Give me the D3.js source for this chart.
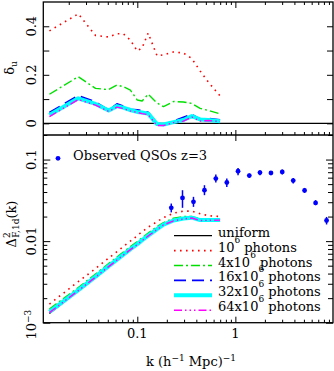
<!DOCTYPE html>
<html>
<head>
<meta charset="utf-8">
<script src="https://cdn.jsdelivr.net/npm/d3@7"></script>
<style>
  body { margin: 0; background: #fff; }
</style>
</head>
<body>
<div id="chart"></div>
<script>
// k grid of the simulated curves (h^-1 Mpc)^-1
var kModel = [0.0127, 0.025, 0.0375, 0.051, 0.062, 0.072, 0.085, 0.1, 0.112, 0.129,
              0.159, 0.185, 0.234, 0.295, 0.36, 0.437, 0.531, 0.698];

// top panel: delta_u for each photon count
var du_1e6  = [0.381, 0.451, 0.362, 0.356, 0.369, 0.369, 0.343, 0.298, 0.311, 0.372,
               0.278, 0.282, 0.294, 0.290, 0.267, 0.216, 0.170, 0.113];
var du_4e6  = [0.120, 0.192, 0.144, 0.139, 0.158, 0.151, 0.137, 0.096, 0.092, 0.120,
               0.084, 0.069, 0.090, 0.088, 0.082, 0.062, 0.053, 0.039];
var du_16e6 = [0.045, 0.114, 0.088, 0.055, 0.080, 0.071, 0.058, 0.055, 0.053, 0.045,
               0.001, -0.005, 0.009, 0.025, 0.037, 0.016, 0.020, 0.014];
var du_32e6 = [0.034, 0.103, 0.080, 0.053, 0.071, 0.065, 0.055, 0.047, 0.045, 0.040,
               -0.003, -0.005, 0.005, 0.014, 0.030, 0.016, 0.014, 0.009];
var du_64e6 = [0.028, 0.098, 0.075, 0.049, 0.067, 0.061, 0.051, 0.045, 0.040, 0.036,
               -0.009, -0.009, 0.003, 0.009, 0.026, 0.009, 0.012, 0.007];

// bottom panel: flux power Delta^2_F,1d(k)
var pf_uni  = [0.00130, 0.00244, 0.00357, 0.00481, 0.00577, 0.00665, 0.00776, 0.00906, 0.01014, 0.0115,
               0.01383, 0.0157, 0.0176, 0.0188, 0.0191, 0.0186, 0.0183, 0.0183];
var pf_1e6  = [0.00169, 0.00319, 0.00460, 0.00619, 0.00743, 0.00857, 0.0100, 0.01167, 0.01306, 0.01483,
               0.01733, 0.0194, 0.0220, 0.0233, 0.0233, 0.0217, 0.0205, 0.0200];
var pf_4e6  = [0.00147, 0.00270, 0.00395, 0.00531, 0.00637, 0.00733, 0.00857, 0.00986, 0.01104, 0.01253,
               0.01504, 0.01683, 0.01912, 0.0200, 0.0200, 0.0188, 0.0186, 0.0186];
var pf_16e6 = [0.00139, 0.00255, 0.00373, 0.00501, 0.00602, 0.00693, 0.00810, 0.00931, 0.01042, 0.01183,
               0.01422, 0.01614, 0.01808, 0.0191, 0.0197, 0.0183, 0.0183, 0.0183];
var pf_32e6 = [0.00136, 0.00251, 0.00367, 0.00494, 0.00593, 0.00683, 0.00798, 0.00918, 0.01028, 0.01168,
               0.01405, 0.01596, 0.0179, 0.0189, 0.0194, 0.0181, 0.0181, 0.0182];
var pf_64e6 = [0.00133, 0.00247, 0.00362, 0.00487, 0.00585, 0.00674, 0.00787, 0.00907, 0.01016, 0.01155,
               0.0139, 0.0158, 0.0177, 0.0187, 0.0192, 0.0179, 0.0180, 0.0181];

// observed QSOs z=3
var qsoK  = [0.222, 0.289, 0.374, 0.484, 0.632, 0.818, 1.065, 1.387, 1.782, 2.307, 3.006, 3.89, 5.08, 6.58, 8.51];
var qsoP  = [0.0256, 0.0339, 0.0303, 0.0421, 0.0585, 0.0523, 0.0719, 0.0637, 0.0693, 0.0686, 0.0705, 0.0553, 0.0418, 0.0294, 0.0179];
var qsoLo = [0.0225, 0.0256, 0.0263, 0.0366, 0.0523, 0.0462, 0.0643, 0.0595, 0.0643, 0.0643, 0.0655, 0.0508, 0.0390, 0.0276, 0.0160];
var qsoHi = [0.0289, 0.0421, 0.0349, 0.0485, 0.0655, 0.0585, 0.0789, 0.0674, 0.0740, 0.0725, 0.0755, 0.0595, 0.0449, 0.0318, 0.0198];

// legend labels: [text, superscript, rest]
var legendLabels = [["uniform", "", ""], ["10", "6", "photons"], ["4x10", "6", "photons"],
                    ["16x10", "6", "photons"], ["32x10", "6", "photons"], ["64x10", "6", "photons"]];

//line styles, same order as the legend
var styles = [
  {color: "#000000", width: 1.3, dash: null},
  {color: "#ff0000", width: 1.6, dash: "1.6,4.4"},
  {color: "#00e000", width: 1.4, dash: "9,3,2,3"},
  {color: "#0000ff", width: 1.8, dash: "12,6"},
  {color: "#00ffff", width: 4, dash: null},
  {color: "#ff00ff", width: 1.4, dash: "8,3,1.5,3,1.5,3,1.5,3"}
];

var width = 334, height = 371;
var plotL = 43.3, plotR = 333, plotT = 2, plotM = 135, plotB = 322.7;
var FONT = "DejaVu Serif";

var svg = d3.select("#chart").append("svg")
    .attr("width", width).attr("height", height)
    .style("font-family", FONT).style("font-size", "13px");

var x = d3.scaleLog().domain([0.011, 9.9]).range([plotL, plotR]);
var yTop = d3.scaleLinear().domain([-0.048, 0.5]).range([plotM, plotT]);
var yBot = d3.scaleLog().domain([0.001, 0.2]).range([plotB, plotM]);

var isDecade = function(v) { return Math.abs(Math.log10(v) - Math.round(Math.log10(v))) < 1e-6; };
var xMajor = x.ticks().filter(isDecade);
var xMinor = x.ticks().filter(function(v) { return !isDecade(v); });
var yMajor = yBot.ticks().filter(isDecade);
var yMinor = yBot.ticks().filter(function(v) { return !isDecade(v); });

//draws tick marks only
function ticks(axis, scale, values, size, tx, ty) {
  var g = svg.append("g")
    .attr("transform", "translate(" + tx + "," + ty + ")")
    .call(axis(scale).tickValues(values).tickSize(size).tickFormat(""));
  g.select(".domain").remove();
  g.selectAll("text").remove();
  g.selectAll("line").attr("stroke", "#000").attr("stroke-width", 1);
  return g;
}

// x ticks
ticks(d3.axisBottom, x, xMinor, 3, 0, plotT);
ticks(d3.axisBottom, x, xMajor, 6, 0, plotT);
ticks(d3.axisTop, x, xMinor, 3, 0, plotM);
ticks(d3.axisTop, x, xMajor, 5, 0, plotM);
ticks(d3.axisBottom, x, xMajor, 6, 0, plotM);
ticks(d3.axisTop, x, xMinor, 3, 0, plotB);
ticks(d3.axisTop, x, xMajor, 6, 0, plotB);

// top y ticks
var topTicks = [0, 0.1, 0.2, 0.3, 0.4];
ticks(d3.axisRight, yTop, topTicks, 6, plotL, 0);
ticks(d3.axisLeft, yTop, topTicks, 6, plotR, 0);

// bottom y ticks
ticks(d3.axisRight, yBot, yMinor, 4, plotL, 0);
ticks(d3.axisRight, yBot, yMajor, 7, plotL, 0);
ticks(d3.axisLeft, yBot, yMinor, 5, plotR, 0);
ticks(d3.axisLeft, yBot, yMajor, 7, plotR, 0);

// frames
svg.append("rect").attr("x", plotL).attr("y", plotT)
  .attr("width", plotR - plotL).attr("height", plotB - plotT)
  .attr("fill", "none").attr("stroke", "#000").attr("stroke-width", 1.3);
svg.append("line").attr("x1", plotL).attr("x2", plotR).attr("y1", plotM).attr("y2", plotM)
  .attr("stroke", "#000").attr("stroke-width", 1.3);
// zero line
svg.append("line").attr("x1", plotL).attr("x2", plotR)
  .attr("y1", yTop(0)).attr("y2", yTop(0))
  .attr("stroke", "#000").attr("stroke-width", 1.3);

// x tick labels
svg.append("g").selectAll("text").data(xMajor).enter().append("text")
  .attr("x", function(d) { return x(d); })
  .attr("y", plotB + 15.5)
  .attr("text-anchor", "middle")
  .text(function(d) { return d3.format("~g")(d); });

// rotated y tick labels
function yLabel(yv, txt, sup) {
  var t = svg.append("text")
    .attr("transform", "translate(36," + yv + ") rotate(-90)")
    .attr("text-anchor", "middle");
  t.append("tspan").text(txt);
  if (sup) t.append("tspan").attr("dy", -5).style("font-size", "9px").text(sup);
}
[0, 0.2, 0.4].forEach(function(v) { yLabel(yTop(v), String(v)); });
yLabel(yBot(0.1), "0.1");
yLabel(yBot(0.01), "0.01");
yLabel(yBot(0.001) + 2, "10", "\u22123");

// axis titles
var tu = svg.append("text").attr("transform", "translate(14,68) rotate(-90)")
  .attr("text-anchor", "middle");
tu.append("tspan").text("\u03b4");
tu.append("tspan").attr("dy", 3).style("font-size", "9px").text("u");

var td = svg.append("text").attr("transform", "translate(16,224) rotate(-90)")
  .attr("text-anchor", "middle");
td.append("tspan").text("\u0394");
td.append("tspan").attr("dy", -6).style("font-size", "9px").text("2");
td.append("tspan").attr("dx", -5.5).attr("dy", 9).style("font-size", "9px").text("F,1d");
td.append("tspan").attr("dy", -3).text("(k)");

var tx = svg.append("text").attr("x", 191).attr("y", 366).attr("text-anchor", "middle");
tx.append("tspan").text("k (h");
tx.append("tspan").attr("dy", -5).style("font-size", "9px").text("\u22121");
tx.append("tspan").attr("dy", 5).text(" Mpc)");
tx.append("tspan").attr("dy", -5).style("font-size", "9px").text("\u22121");

// curves
var topSeries = [null, du_1e6, du_4e6, du_16e6, du_32e6, du_64e6];
var botSeries = [pf_uni, pf_1e6, pf_4e6, pf_16e6, pf_32e6, pf_64e6];

function drawCurve(vals, yScale, st) {
  var line = d3.line()
    .x(function(d, i) { return x(kModel[i]); })
    .y(function(d) { return yScale(d); });
  svg.append("path").datum(vals)
    .attr("d", line)
    .attr("fill", "none")
    .attr("stroke", st.color)
    .attr("stroke-width", st.width)
    .attr("stroke-dasharray", st.dash)
    .attr("stroke-linejoin", "round");
}
topSeries.forEach(function(s, i) { if (s) drawCurve(s, yTop, styles[i]); });
botSeries.forEach(function(s, i) { drawCurve(s, yBot, styles[i]); });

// QSO points with error bars
var qso = qsoK.map(function(k, i) { return {k: k, p: qsoP[i], lo: qsoLo[i], hi: qsoHi[i]}; });
svg.append("g").selectAll("line").data(qso).enter().append("line")
  .attr("x1", function(d) { return x(d.k); }).attr("x2", function(d) { return x(d.k); })
  .attr("y1", function(d) { return yBot(d.lo); }).attr("y2", function(d) { return yBot(d.hi); })
  .attr("stroke", "#0000ff").attr("stroke-width", 1.5);
svg.append("g").selectAll("circle").data(qso).enter().append("circle")
  .attr("cx", function(d) { return x(d.k); })
  .attr("cy", function(d) { return yBot(d.p); })
  .attr("r", 2.4).attr("fill", "#0000ff");

// legends
svg.append("circle").attr("cx", 58).attr("cy", 158.3).attr("r", 2.4).attr("fill", "#0000ff");
svg.append("text").attr("x", 73).attr("y", 160).text("Observed QSOs z=3");

var leg = svg.append("g").selectAll("g").data(legendLabels).enter().append("g")
  .attr("transform", function(d, i) { return "translate(0," + (236.7 + i * 14.9) + ")"; });
leg.append("line")
  .attr("x1", 174).attr("x2", 212).attr("y1", -1).attr("y2", -1)
  .attr("stroke", function(d, i) { return styles[i].color; })
  .attr("stroke-width", function(d, i) { return styles[i].width; })
  .attr("stroke-dasharray", function(d, i) { return styles[i].dash; });
leg.each(function(d) {
  var t = d3.select(this).append("text").attr("x", 218).attr("y", 0);
  t.append("tspan").text(d[0]);
  if (d[1]) {
    t.append("tspan").attr("dy", -9).style("font-size", "9px").text(d[1]);
    t.append("tspan").attr("dx", 4).attr("dy", 9).text(d[2]);
  }
});
</script>
</body>
</html>
